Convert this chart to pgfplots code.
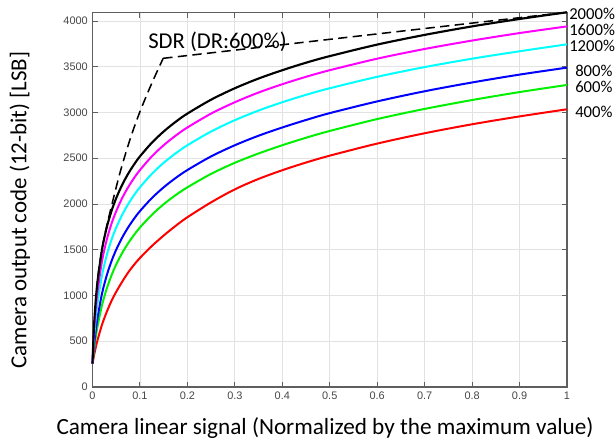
\documentclass[border=0pt]{standalone}
\usepackage{fontspec}
\setmainfont{Carlito}
\newfontfamily\tickfont{Liberation Sans}
\usepackage{pgfplots}
\usepackage{pgfplotstable}
\pgfplotsset{compat=1.18}
\usetikzlibrary{calc}
\definecolor{axgray}{RGB}{95,95,95}
\definecolor{tickgray}{RGB}{70,70,70}
\definecolor{gridgray}{RGB}{226,226,226}
\definecolor{cmag}{RGB}{255,0,255}
\definecolor{ccyan}{RGB}{0,255,255}
\definecolor{cblue}{RGB}{0,0,255}
\definecolor{cgreen}{RGB}{0,240,0}
\definecolor{cred}{RGB}{255,0,0}

\pgfplotstableread{
x      d2000 d1600 d1200 d800 d600 d400
0      256   256   256   256  256  256
0.0025 593   538   477   411  375  325
0.005  819   737   645   538  477  388
0.01   1126  1019  893   737  645  500
0.02   1501  1374  1219  1019 893  680
0.03   1743  1608  1440  1219 1075 820
0.04   1922  1783  1608  1374 1219 940
0.05   2064  1922  1743  1501 1339 1040
0.0625 2209  2064  1881  1632 1464 1150
0.075  2329  2182  1997  1743 1570 1250
0.0875 2431  2283  2096  1838 1661 1335
0.1    2520  2371  2182  1922 1743 1410
0.125  2669  2520  2329  2064 1881 1540
0.15   2792  2642  2450  2182 1997 1655
0.175  2897  2746  2552  2283 2096 1760
0.2    2988  2836  2642  2371 2182 1855
0.25   3140  2988  2792  2520 2329 2018
0.3    3265  3112  2916  2642 2450 2160
0.35   3371  3218  3021  2746 2552 2274
0.4    3462  3309  3112  2836 2642 2369
0.45   3544  3390  3193  2918 2724 2453
0.5    3616  3462  3265  2993 2798 2528
0.6    3742  3588  3390  3121 2928 2660
0.7    3848  3694  3496  3232 3039 2773
0.8    3941  3786  3588  3328 3136 2871
0.9    4022  3868  3669  3414 3223 2957
1      4095  3941  3745  3490 3301 3035
}\curves

\pgfplotstableread{
x      y
0      256
0.01   1126
0.02   1501
0.03   1760
0.045  2080
0.06   2380
0.08   2720
0.1    3009
0.125  3320
0.149  3592
}\sdrlow

\pgfplotstableread{
x      y
0.149  3592
1      4095
}\sdrhigh

\begin{document}
\begin{tikzpicture}
\begin{axis}[
  scale only axis,
  width=355.875pt, height=281.0pt,
  xmin=0, xmax=1, ymin=0, ymax=4095,
  clip=false,
  xtick={0,0.1,0.2,0.3,0.4,0.5,0.6,0.7,0.8,0.9,1},
  xticklabels={0,0.1,0.2,0.3,0.4,0.5,0.6,0.7,0.8,0.9,1},
  ytick={0,500,1000,1500,2000,2500,3000,3500,4000},
  yticklabels={0,500,1000,1500,2000,2500,3000,3500,4000},
  /pgf/number format/assume math mode=true,
  tick label style={font=\tickfont\fontsize{8.2}{9}\selectfont, text=tickgray},
  xtick pos=both, ytick pos=both,
  tick align=inside,
  major tick length=4pt,
  tick style={axgray, line width=0.7pt},
  axis line style={axgray, line width=1pt},
  grid=major,
  major grid style={gridgray, line width=0.6pt},
  xlabel={Camera linear signal (Normalized by the maximum value)},
  ylabel={Camera output code (12-bit) [LSB]},
  xlabel style={at={(axis description cs:0.49,0)}, anchor=center, yshift=-30.75pt, font=\fontsize{17.4}{20}\selectfont},
  ylabel style={at={(axis description cs:-0.1529,0.472)}, anchor=center, font=\fontsize{17.2}{20}\selectfont},
]
\addplot[black, line width=1.15pt, dash pattern=on 7pt off 4pt, smooth] table[x=x, y=y] {\sdrlow};
\addplot[black, line width=1.15pt, dash pattern=on 7pt off 4pt] table[x=x, y=y] {\sdrhigh};
\addplot[cred, line width=1.5pt, smooth] table[x=x, y=d400] {\curves};
\addplot[cgreen, line width=1.5pt, smooth] table[x=x, y=d600] {\curves};
\addplot[cblue, line width=1.5pt, smooth] table[x=x, y=d800] {\curves};
\addplot[ccyan, line width=1.5pt, smooth] table[x=x, y=d1200] {\curves};
\addplot[cmag, line width=1.5pt, smooth] table[x=x, y=d1600] {\curves};
\addplot[black, line width=1.6pt, smooth] table[x=x, y=d2000] {\curves};

\node[anchor=west, inner sep=0pt, font=\fontsize{17}{20}\selectfont] at (axis cs:0.117,3774) {SDR (DR:600\%)};
\node[anchor=west, inner sep=0pt, xshift=1.5pt, font=\fontsize{12.5}{14}\selectfont] at (axis cs:1,4073) {2000\%};
\node[anchor=west, inner sep=0pt, xshift=1.5pt, font=\fontsize{12.5}{14}\selectfont] at (axis cs:1,3902) {1600\%};
\node[anchor=west, inner sep=0pt, xshift=1.5pt, font=\fontsize{12.5}{14}\selectfont] at (axis cs:1,3730) {1200\%};
\node[anchor=west, inner sep=0pt, xshift=6pt, font=\fontsize{12.5}{14}\selectfont] at (axis cs:1,3457) {800\%};
\node[anchor=west, inner sep=0pt, xshift=6pt, font=\fontsize{12.5}{14}\selectfont] at (axis cs:1,3275) {600\%};
\node[anchor=west, inner sep=0pt, xshift=6pt, font=\fontsize{12.5}{14}\selectfont] at (axis cs:1,3009) {400\%};
\end{axis}
\pgfresetboundingbox
\path[use as bounding box] ($(current axis.south west)+(-69.375pt,-42pt)$) rectangle ($(current axis.north east)+(36pt,9.225pt)$);
\end{tikzpicture}
\end{document}
